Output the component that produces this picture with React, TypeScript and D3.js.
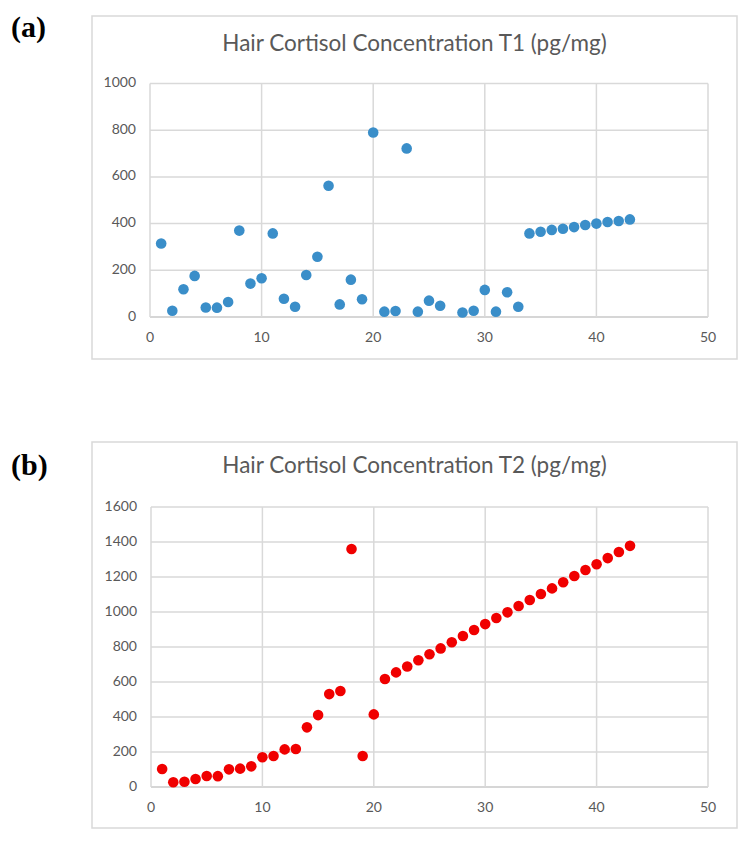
import React from "react";
import * as d3 from "d3";

// ---------- DATA ----------
const xTickValues = [0, 10, 20, 30, 40, 50];
const yTicksT1 = [0, 200, 400, 600, 800, 1000];
const yTicksT2 = [0, 200, 400, 600, 800, 1000, 1200, 1400, 1600];

const subjectsT1 = [
  1, 2, 3, 4, 5, 6, 7, 8, 9, 10, 11, 12, 13, 14, 15, 16, 17, 18, 19, 20, 21, 22,
  23, 24, 25, 26, 28, 29, 30, 31, 32, 33, 34, 35, 36, 37, 38, 39, 40, 41, 42, 43,
];
const cortisolT1 = [
  315, 27, 119, 176, 41, 40, 64, 370, 143, 166, 358, 78, 44, 180, 258, 562, 54,
  160, 76, 790, 23, 26, 722, 23, 70, 48, 19, 27, 116, 23, 106, 44, 358, 365,
  373, 378, 385, 394, 400, 407, 411, 418,
];

const subjectsT2 = [
  1, 2, 3, 4, 5, 6, 7, 8, 9, 10, 11, 12, 13, 14, 15, 16, 17, 18, 19, 20, 21, 22,
  23, 24, 25, 26, 27, 28, 29, 30, 31, 32, 33, 34, 35, 36, 37, 38, 39, 40, 41,
  42, 43,
];
const cortisolT2 = [
  103, 27, 30, 46, 63, 62, 101, 105, 118, 170, 177, 215, 217, 341, 411, 531,
  549, 1360, 177, 415, 617, 655, 689, 724, 759, 792, 827, 863, 897, 931, 966,
  998, 1034, 1069, 1103, 1135, 1170, 1206, 1240, 1273, 1308, 1343, 1378,
];

const titles = [
  "Hair Cortisol Concentration T1 (pg/mg)",
  "Hair Cortisol Concentration T2 (pg/mg)",
];
const panelLabels = ["(a)", "(b)"];

// ---------- PANEL ----------
type PanelProps = {
  label: string;
  title: string;
  xs: number[];
  ys: number[];
  yTicks: number[];
  color: string;
  frame: { x: number; y: number; w: number; h: number };
  plot: { left: number; right: number; top: number; bottom: number };
  labelY: number;
  titleY: number;
};

const FONT = "Lato, 'Open Sans', sans-serif";

function Panel(p: PanelProps) {
  const x = d3
    .scaleLinear()
    .domain([0, 50])
    .range([p.plot.left, p.plot.right]);
  const y = d3
    .scaleLinear()
    .domain([0, p.yTicks[p.yTicks.length - 1]])
    .range([p.plot.bottom, p.plot.top]);
  const grid = "#d9d9d9";
  const tickColor = "#595959";
  return (
    <g>
      <text
        x={11}
        y={p.labelY}
        fontFamily="'Liberation Serif', 'DejaVu Serif', serif"
        fontWeight="bold"
        fontSize={30}
        fill="#000"
      >
        {p.label}
      </text>
      <rect
        x={p.frame.x}
        y={p.frame.y}
        width={p.frame.w}
        height={p.frame.h}
        fill="#fff"
        stroke="#d9d9d9"
        strokeWidth={1.5}
      />
      <text
        x={p.frame.x + p.frame.w / 2}
        y={p.titleY}
        textAnchor="middle"
        dominantBaseline="middle"
        fontFamily={FONT}
        fontSize={22.5}
        fill="#595959"
      >
        {p.title}
      </text>
      {/* horizontal grid */}
      {p.yTicks.map((t) => (
        <g key={"y" + t}>
          <line
            x1={p.plot.left}
            x2={p.plot.right}
            y1={y(t)}
            y2={y(t)}
            stroke={t === 0 ? "#c8c8c8" : grid}
            strokeWidth={1.5}
          />
          <text
            x={p.plot.left - 14}
            y={y(t)}
            textAnchor="end"
            dominantBaseline="middle"
            fontFamily={FONT}
            fontSize={14}
            fill={tickColor}
          >
            {t}
          </text>
        </g>
      ))}
      {/* vertical grid */}
      {xTickValues.map((t) => (
        <g key={"x" + t}>
          <line
            x1={x(t)}
            x2={x(t)}
            y1={p.plot.top}
            y2={p.plot.bottom}
            stroke={grid}
            strokeWidth={1.5}
          />
          <text
            x={x(t)}
            y={p.plot.bottom + 21}
            textAnchor="middle"
            dominantBaseline="middle"
            fontFamily={FONT}
            fontSize={14}
            fill={tickColor}
          >
            {t}
          </text>
        </g>
      ))}
      {p.xs.map((v, i) => (
        <circle key={i} cx={x(v)} cy={y(p.ys[i])} r={5.3} fill={p.color} />
      ))}
    </g>
  );
}

export default function App() {
  return (
    <svg
      width={754}
      height={850}
      style={{ position: "absolute", left: 0, top: 0, background: "#fff" }}
    >
      <rect width={754} height={850} fill="#fff" />
      <Panel
        label={panelLabels[0]}
        title={titles[0]}
        xs={subjectsT1}
        ys={cortisolT1}
        yTicks={yTicksT1}
        color="#3a8ec9"
        frame={{ x: 92, y: 16, w: 645, h: 343 }}
        plot={{ left: 150, right: 708, top: 83.5, bottom: 317 }}
        labelY={37}
        titleY={45}
      />
      <Panel
        label={panelLabels[1]}
        title={titles[1]}
        xs={subjectsT2}
        ys={cortisolT2}
        yTicks={yTicksT2}
        color="#f00000"
        frame={{ x: 92, y: 442, w: 645, h: 386 }}
        plot={{ left: 151, right: 708, top: 507, bottom: 787 }}
        labelY={475}
        titleY={467}
      />
    </svg>
  );
}
